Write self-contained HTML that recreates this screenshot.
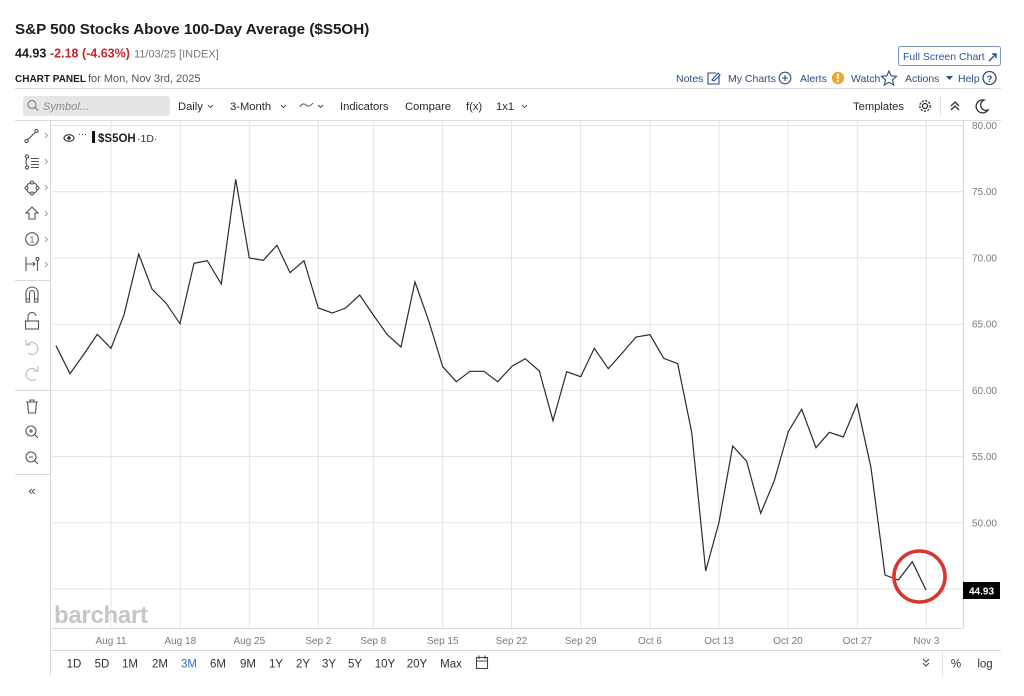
<!DOCTYPE html>
<html><head><meta charset="utf-8"><style>
html,body{margin:0;padding:0;background:#fff;width:1024px;height:696px;overflow:hidden}
svg{position:absolute;left:0;top:0;font-family:"Liberation Sans",sans-serif}
</style></head><body>
<svg width="1024" height="696" viewBox="0 0 1024 696">
<!-- header -->
<text x="15" y="34" font-size="15.2" font-weight="bold" fill="#1b1b1b">S&amp;P 500 Stocks Above 100-Day Average ($S5OH)</text>
<text y="57.5" font-size="12.5" font-weight="bold"><tspan x="15" fill="#1b1b1b">44.93</tspan><tspan x="50" fill="#c4262e">-2.18 (-4.63%)</tspan><tspan x="134" fill="#777" font-weight="normal" font-size="11">11/03/25 [INDEX]</tspan></text>
<text x="15" y="82" font-size="10" font-weight="bold" fill="#1b1b1b">CHART PANEL</text>
<text x="88" y="82" font-size="11" fill="#555">for Mon, Nov 3rd, 2025</text>

<rect x="898.5" y="46.5" width="102" height="19" rx="2" fill="#fff" stroke="#7d97c4"/>
<text x="903" y="60" font-size="10.5" fill="#2f5597">Full Screen Chart</text>
<path d="M989 61 L996 54 M992 54 L996 54 L996 58" stroke="#2f5597" stroke-width="1.5" fill="none"/>

<g font-size="10.5" fill="#2b4c80">
<text x="676" y="82">Notes</text>
<text x="728" y="82">My Charts</text>
<text x="800" y="82">Alerts</text>
<text x="851" y="82">Watch</text>
<text x="905" y="82">Actions</text>
<text x="958" y="82">Help</text>
</g>
<g stroke="#2b4c80" fill="none" stroke-width="1.1">
<path d="M716 73 H708 V84 H719 V76"/><path d="M712 80 L718 73 L720 75 L714 81 Z"/>
<circle cx="785" cy="78" r="5.8"/><path d="M782 78 H788 M785 75 V81"/>
<path d="M889 71 L891.2 75.8 L896.5 76.3 L892.5 79.8 L893.7 85 L889 82.3 L884.3 85 L885.5 79.8 L881.5 76.3 L886.8 75.8 Z"/>
<circle cx="989.5" cy="78" r="6.5" stroke-width="1.3"/>
</g>
<circle cx="838" cy="78" r="6.2" fill="#f0a92e"/>
<rect x="837" y="74" width="2" height="5" fill="#fff"/><rect x="837" y="80" width="2" height="2" fill="#fff"/>
<path d="M946 76 H953 L949.5 80 Z" fill="#2b4c80"/>
<text x="989.5" y="82" font-size="9.5" font-weight="bold" fill="#2b4c80" text-anchor="middle">?</text>

<line x1="15" y1="88.5" x2="1001" y2="88.5" stroke="#dcdcdc"/>

<!-- toolbar -->
<rect x="23" y="96" width="147" height="20" rx="3" fill="#e6e6e6"/>
<circle cx="32" cy="104.5" r="4" stroke="#888" stroke-width="1.2" fill="none"/>
<line x1="35" y1="107.5" x2="38" y2="110.5" stroke="#888" stroke-width="1.3"/>
<text x="43" y="110" font-size="11" font-style="italic" fill="#8a8a8a">Symbol...</text>
<g font-size="11.2" fill="#2a2a2a">
<text x="178" y="110">Daily</text>
<text x="230" y="110">3-Month</text>
<text x="340" y="110">Indicators</text>
<text x="405" y="110">Compare</text>
<text x="466" y="110">f(x)</text>
<text x="496" y="110">1x1</text>
<text x="853" y="110">Templates</text>
</g>
<g stroke="#555" fill="none" stroke-width="1">
<path d="M208 105 L210.5 107.5 L213 105"/>
<path d="M281 105 L283.5 107.5 L286 105"/>
<path d="M300 107 Q303 102 306 105 T313 103"/>
<path d="M318 105 L320.5 107.5 L323 105"/>
<path d="M522 105 L524.5 107.5 L527 105"/>
</g>
<g stroke="#333" fill="none" stroke-width="1.3">
<circle cx="925" cy="106" r="2.5"/>
<circle cx="925" cy="106" r="5.2" stroke-dasharray="2.2 1.3"/>
<path d="M951 106 L955 102 L959 106 M951 110 L955 106 L959 110"/>
<path d="M984 100 A6.5 6.5 0 1 0 988 110 A5 5 0 0 1 984 100 Z"/>
</g>
<line x1="940.5" y1="96" x2="940.5" y2="116" stroke="#e0e0e0"/>
<line x1="15" y1="120.5" x2="1001" y2="120.5" stroke="#dcdcdc"/>

<!-- grid -->
<g stroke="#e3e3e3" stroke-width="1">
<line x1="50" y1="125.5" x2="963" y2="125.5"/>
<line x1="50" y1="191.7" x2="963" y2="191.7"/>
<line x1="50" y1="258" x2="963" y2="258"/>
<line x1="50" y1="324.2" x2="963" y2="324.2"/>
<line x1="50" y1="390.4" x2="963" y2="390.4"/>
<line x1="50" y1="456.6" x2="963" y2="456.6"/>
<line x1="50" y1="522.8" x2="963" y2="522.8"/>
<line x1="50" y1="589" x2="963" y2="589"/>
<line x1="111" y1="121" x2="111" y2="628"/>
<line x1="180.3" y1="121" x2="180.3" y2="628"/>
<line x1="249.3" y1="121" x2="249.3" y2="628"/>
<line x1="318.3" y1="121" x2="318.3" y2="628"/>
<line x1="373.3" y1="121" x2="373.3" y2="628"/>
<line x1="442.7" y1="121" x2="442.7" y2="628"/>
<line x1="511.5" y1="121" x2="511.5" y2="628"/>
<line x1="580.7" y1="121" x2="580.7" y2="628"/>
<line x1="650" y1="121" x2="650" y2="628"/>
<line x1="719" y1="121" x2="719" y2="628"/>
<line x1="788" y1="121" x2="788" y2="628"/>
<line x1="857.3" y1="121" x2="857.3" y2="628"/>
<line x1="926.3" y1="121" x2="926.3" y2="628"/>
</g>
<g stroke="#d8d8d8" stroke-width="1">
<line x1="50.5" y1="121" x2="50.5" y2="675"/>
<line x1="963.5" y1="121" x2="963.5" y2="628"/>
<line x1="50" y1="628.5" x2="963.5" y2="628.5"/>
<line x1="50" y1="650.5" x2="1001" y2="650.5"/>
<line x1="15" y1="280.5" x2="50" y2="280.5"/>
<line x1="15" y1="390.5" x2="50" y2="390.5"/>
<line x1="15" y1="474.5" x2="50" y2="474.5"/>
</g>

<!-- y labels -->
<g font-size="10" fill="#7a7a7a" text-anchor="end">
<text x="997" y="129">80.00</text>
<text x="997" y="195.2">75.00</text>
<text x="997" y="261.5">70.00</text>
<text x="997" y="327.7">65.00</text>
<text x="997" y="393.9">60.00</text>
<text x="997" y="460.1">55.00</text>
<text x="997" y="526.3">50.00</text>
</g>
<!-- x labels -->
<g font-size="10" fill="#7a7a7a" text-anchor="middle">
<text x="111" y="644">Aug 11</text>
<text x="180.3" y="644">Aug 18</text>
<text x="249.3" y="644">Aug 25</text>
<text x="318.3" y="644">Sep 2</text>
<text x="373.3" y="644">Sep 8</text>
<text x="442.7" y="644">Sep 15</text>
<text x="511.5" y="644">Sep 22</text>
<text x="580.7" y="644">Sep 29</text>
<text x="650" y="644">Oct 6</text>
<text x="719" y="644">Oct 13</text>
<text x="788" y="644">Oct 20</text>
<text x="857.3" y="644">Oct 27</text>
<text x="926.3" y="644">Nov 3</text>
</g>

<!-- watermark -->
<text x="54" y="623" font-size="24" font-weight="bold" fill="#c6c6c6" letter-spacing="-0.3">barchart</text>

<!-- series -->
<polyline fill="none" stroke="#2b2b2b" stroke-width="1.2" stroke-linejoin="miter" points="56,345.7 70,373.7 84,354 97.3,334.3 111,348.3 124,315 138.7,254 152,289 165.7,302.7 180,323.7 194,263.3 207.3,260.7 221.3,284 235.7,179.3 249.3,258 263.3,260.3 277,245.3 290,272.7 304,260.7 318.3,308 332.3,313 345.7,308 359.7,295 374,316 387.3,334.7 401,347 415,282 429,321.7 442.7,366.7 456.3,381.7 470,371.3 484,371.3 497.7,381.7 512.3,366 525.3,358.7 539.3,371 553,420.7 566.7,371.7 580.7,376.7 594.3,348.3 608.3,368.7 622.3,353 636,337 650,334.7 663.7,358.3 677.7,363.7 691.7,432.3 705.7,571 719,522.3 732.7,446 746.7,461.3 760.7,513.3 774.3,480.7 788.3,431.7 801.7,409.3 816,447.7 829.3,432.3 843.3,437 857,404 871,467.7 885,575 898.3,580 912.3,561.7 926,590"/>

<circle cx="919.5" cy="576.5" r="25.5" fill="none" stroke="#d9352c" stroke-width="3.6"/>

<rect x="963" y="582" width="37" height="17" fill="#000"/>
<text x="981.5" y="594.5" font-size="10" font-weight="bold" fill="#fff" text-anchor="middle">44.93</text>

<!-- legend -->
<ellipse cx="69" cy="138" rx="5" ry="3.3" fill="none" stroke="#333" stroke-width="1.1"/>
<circle cx="69" cy="138" r="1.8" fill="#333"/>
<text x="78" y="137" font-size="9" fill="#333">···</text>
<rect x="92" y="131" width="3" height="12" fill="#111"/>
<text x="98" y="142" font-size="11.5" font-weight="bold" fill="#222">$S5OH</text>
<text x="137" y="142" font-size="10.5" fill="#333">·1D·</text>

<!-- left toolbar icons -->
<g stroke="#555" fill="none" stroke-width="1.1">
<circle cx="26.5" cy="141" r="1.6"/><circle cx="36.5" cy="131" r="1.6"/><path d="M27.7 139.8 L35.3 132.2"/>
<circle cx="27" cy="156.5" r="1.6"/><circle cx="27" cy="167.5" r="1.6"/><path d="M27 158 Q25 162 27 166"/><path d="M31 158.5 H39 M31 161.5 H39 M31 164.5 H39 M31 167.5 H39"/>
<circle cx="32" cy="188" r="5.5"/><circle cx="32" cy="182.5" r="1.5" fill="#fff"/><circle cx="32" cy="193.5" r="1.5" fill="#fff"/><circle cx="26.5" cy="188" r="1.5" fill="#fff"/><circle cx="37.5" cy="188" r="1.5" fill="#fff"/>
<path d="M32 207 L38 213 H35 V219 H29 V213 H26 Z"/>
<circle cx="32" cy="239" r="6.3"/>
<path d="M26 257 V271 M26 264 H35 M33 262 L35 264 L33 266 M37.5 261 V271"/><circle cx="37.5" cy="259" r="1.6"/>
<path d="M26 302 V293 A6 6 0 0 1 38 293 V302 H34.5 V293 A2.5 2.5 0 0 0 29.5 293 V302 Z"/><path d="M26 299 H29.5 M34.5 299 H38"/>
<rect x="25.5" y="321" width="13" height="8"/><path d="M28 321 V317 A4 4 0 0 1 36 316"/>
<path d="M27 345 A6 6 0 1 1 28 353" stroke="#bbb"/><path d="M26 340 L26 345 L31 345" stroke="#bbb"/>
<path d="M37 371 A6 6 0 1 0 36 379" stroke="#bbb"/><path d="M38 366 L38 371 L33 371" stroke="#bbb"/>
<path d="M26 402 H38 M30 402 V400 H34 V402 M27.5 402 L28.5 413 H35.5 L36.5 402"/>
<circle cx="31" cy="431" r="5"/><path d="M34.5 434.5 L38 438 M29 431 H33 M31 429 V433"/>
<circle cx="31" cy="457" r="5"/><path d="M34.5 460.5 L38 464 M29 457 H33"/>
</g>
<text x="32" y="242.5" font-size="8.5" fill="#555" text-anchor="middle">1</text>
<g stroke="#999" fill="none" stroke-width="0.9">
<path d="M45 133 L47.5 135.5 L45 138"/>
<path d="M45 159 L47.5 161.5 L45 164"/>
<path d="M45 185 L47.5 187.5 L45 190"/>
<path d="M45 211 L47.5 213.5 L45 216"/>
<path d="M45 237 L47.5 239.5 L45 242"/>
<path d="M45 262 L47.5 264.5 L45 267"/>
</g>
<text x="32" y="495" font-size="13" fill="#444" text-anchor="middle">«</text>

<!-- range bar -->
<g font-size="11.5" fill="#333" text-anchor="middle">
<text x="74" y="667.5">1D</text>
<text x="102" y="667.5">5D</text>
<text x="130" y="667.5">1M</text>
<text x="160" y="667.5">2M</text>
<text x="189" y="667.5" fill="#2d6cc0">3M</text>
<text x="218" y="667.5">6M</text>
<text x="248" y="667.5">9M</text>
<text x="276" y="667.5">1Y</text>
<text x="303" y="667.5">2Y</text>
<text x="329" y="667.5">3Y</text>
<text x="355" y="667.5">5Y</text>
<text x="385" y="667.5">10Y</text>
<text x="417" y="667.5">20Y</text>
<text x="451" y="667.5">Max</text>
<text x="956" y="667.5">%</text>
<text x="985" y="667.5">log</text>
</g>
<g stroke="#444" fill="none" stroke-width="1.1">
<rect x="476.5" y="657.5" width="11" height="11"/><path d="M476.5 661 H487.5 M479 655.5 V659 M485 655.5 V659"/>
<path d="M923 659 L926 662 L929 659 M923 663 L926 666 L929 663"/>
</g>
<line x1="942.5" y1="652" x2="942.5" y2="676" stroke="#e0e0e0"/>
</svg>
</body></html>
